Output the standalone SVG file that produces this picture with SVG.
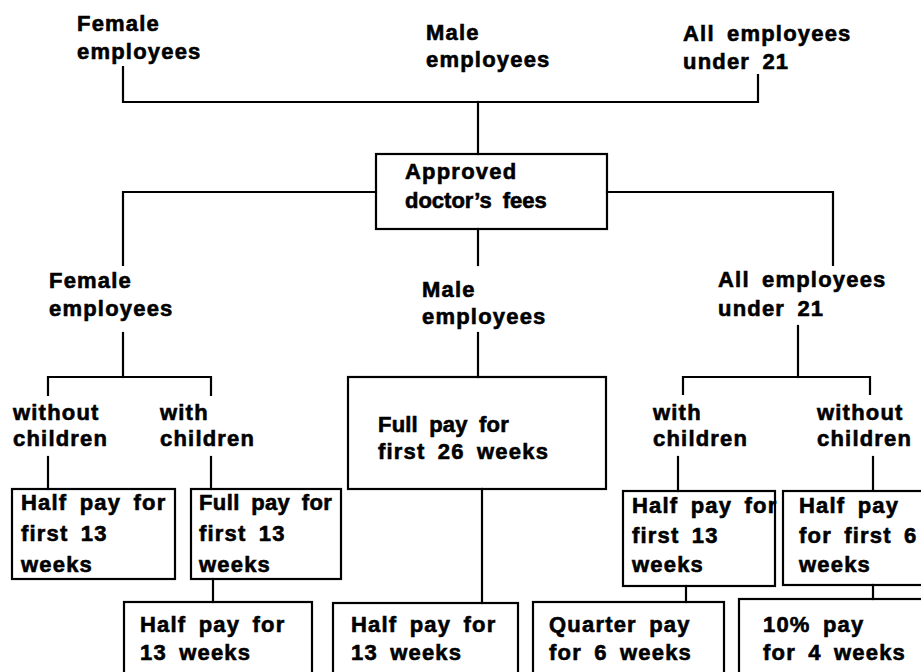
<svg xmlns="http://www.w3.org/2000/svg" width="921" height="672" viewBox="0 0 921 672">
  <style>
    .t { font-family: "Liberation Sans", Arial, Helvetica, sans-serif; font-weight: bold; font-size: 22px; letter-spacing: 1.2px; word-spacing: 5px; fill: #000; stroke: #000; stroke-width: 0.6px; }
    .box { fill: none; stroke: #000; stroke-width: 2.2; }
    .ln { fill: none; stroke: #000; stroke-width: 2.2; stroke-linecap: square; }
  </style>
  <rect width="921" height="672" fill="#fff"/>

  <!-- connectors -->
  <g id="connectors" class="ln">
    <!-- top groups to the fee box -->
    <polyline points="123,67 123,102 758,102 758,75"/>
    <line x1="478" y1="102" x2="478" y2="154"/>
    <!-- fee box to the second tier -->
    <polyline points="376,192 123,192 123,265"/>
    <polyline points="607,192 833,192 833,265"/>
    <line x1="478" y1="229" x2="478" y2="265"/>
    <!-- female split -->
    <line x1="123" y1="333" x2="123" y2="377"/>
    <polyline points="48,395 48,377 211,377 211,395"/>
    <line x1="48" y1="457" x2="48" y2="489"/>
    <line x1="211" y1="457" x2="211" y2="489"/>
    <!-- male -->
    <line x1="478" y1="333" x2="478" y2="377"/>
    <!-- under 21 split -->
    <line x1="798" y1="326" x2="798" y2="377"/>
    <polyline points="683,394 683,377 870,377 870,394"/>
    <line x1="678" y1="457" x2="678" y2="491"/>
    <line x1="873" y1="457" x2="873" y2="490"/>
    <!-- follow-on periods -->
    <line x1="213" y1="579" x2="213" y2="602"/>
    <line x1="482" y1="489" x2="482" y2="603"/>
    <line x1="686" y1="586" x2="686" y2="602"/>
    <line x1="873" y1="585" x2="873" y2="599"/>
  </g>

  <!-- top tier -->
  <g id="top-female">
    <text class="t" x="77" y="31">Female</text>
    <text class="t" x="77" y="59">employees</text>
  </g>
  <g id="top-male">
    <text class="t" x="426" y="40">Male</text>
    <text class="t" x="426" y="67">employees</text>
  </g>
  <g id="top-under21">
    <text class="t" x="683" y="41">All employees</text>
    <text class="t" x="683" y="69">under 21</text>
  </g>

  <g id="doctor-fees">
    <rect class="box" x="376" y="154" width="231" height="75"/>
    <text class="t" x="405" y="179">Approved</text>
    <text class="t" x="405" y="208" textLength="143" lengthAdjust="spacing">doctor’s fees</text>
  </g>

  <!-- second tier -->
  <g id="mid-female">
    <text class="t" x="49" y="288">Female</text>
    <text class="t" x="49" y="316">employees</text>
  </g>
  <g id="mid-male">
    <text class="t" x="422" y="297">Male</text>
    <text class="t" x="422" y="324">employees</text>
  </g>
  <g id="mid-under21">
    <text class="t" x="718" y="287">All employees</text>
    <text class="t" x="718" y="316">under 21</text>
  </g>

  <g id="female-without">
    <text class="t" x="13" y="420">without</text>
    <text class="t" x="13" y="446">children</text>
  </g>
  <g id="female-with">
    <text class="t" x="160" y="420">with</text>
    <text class="t" x="160" y="446">children</text>
  </g>
  <g id="under21-with">
    <text class="t" x="653" y="420">with</text>
    <text class="t" x="653" y="446">children</text>
  </g>
  <g id="under21-without">
    <text class="t" x="817" y="420">without</text>
    <text class="t" x="817" y="446">children</text>
  </g>

  <g id="male-full">
    <rect class="box" x="348" y="377" width="258" height="112"/>
    <text class="t" x="378" y="432" textLength="132" lengthAdjust="spacing">Full pay for</text>
    <text class="t" x="378" y="459">first 26 weeks</text>
  </g>

  <!-- first period boxes -->
  <g id="female-without-half">
    <rect class="box" x="12" y="489" width="163" height="90"/>
    <text class="t" x="21" y="510">Half pay for</text>
    <text class="t" x="21" y="541">first 13</text>
    <text class="t" x="21" y="572">weeks</text>
  </g>
  <g id="female-with-full">
    <rect class="box" x="191" y="489" width="150" height="90"/>
    <text class="t" x="199" y="510" textLength="134" lengthAdjust="spacing">Full pay for</text>
    <text class="t" x="199" y="541">first 13</text>
    <text class="t" x="199" y="572">weeks</text>
  </g>
  <g id="under21-with-half">
    <rect class="box" x="623" y="491" width="152" height="95"/>
    <text class="t" x="632" y="513">Half pay for</text>
    <text class="t" x="632" y="543">first 13</text>
    <text class="t" x="632" y="572">weeks</text>
  </g>
  <g id="under21-without-half">
    <rect class="box" x="783" y="491" width="150" height="94"/>
    <text class="t" x="799" y="513">Half pay</text>
    <text class="t" x="799" y="543">for first 6</text>
    <text class="t" x="799" y="572">weeks</text>
  </g>

  <!-- follow-on boxes -->
  <g id="female-with-half">
    <rect class="box" x="124" y="602" width="188" height="80"/>
    <text class="t" x="140" y="632">Half pay for</text>
    <text class="t" x="140" y="660">13 weeks</text>
  </g>
  <g id="male-half">
    <rect class="box" x="333" y="603" width="185" height="80"/>
    <text class="t" x="351" y="632">Half pay for</text>
    <text class="t" x="351" y="660">13 weeks</text>
  </g>
  <g id="under21-with-quarter">
    <rect class="box" x="533" y="602" width="191" height="80"/>
    <text class="t" x="549" y="632">Quarter pay</text>
    <text class="t" x="549" y="660">for 6 weeks</text>
  </g>
  <g id="under21-without-ten">
    <rect class="box" x="739" y="599" width="195" height="83"/>
    <text class="t" x="763" y="632">10% pay</text>
    <text class="t" x="763" y="660">for 4 weeks</text>
  </g>
</svg>
